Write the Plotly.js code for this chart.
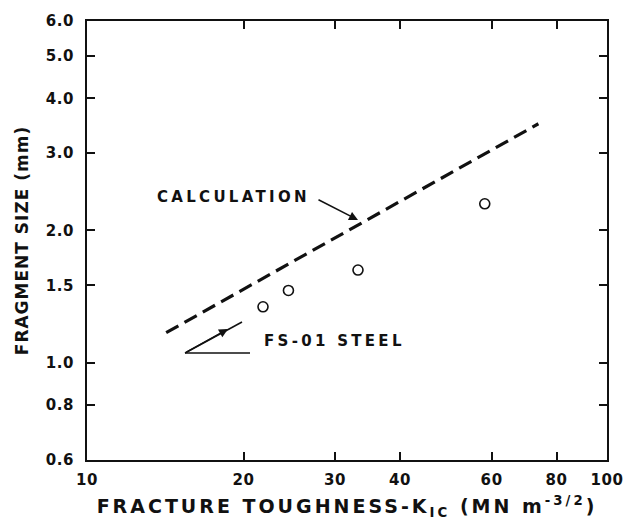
<!DOCTYPE html>
<html><head><meta charset="utf-8">
<script src="https://cdn.plot.ly/plotly-3.0.1.min.js"></script>
<style>
body{margin:0;background:#fff}
.xtitle{letter-spacing:3px}
.ytitle{letter-spacing:1px}
.annotation-text{letter-spacing:3.3px}
.xtick text,.ytick text{letter-spacing:0.6px}
</style></head>
<body><div id="chart" style="width:628px;height:520px"></div>
<script>
// Measured data (FS-01 steel)
const toughness = [21.8, 24.4, 33.2, 58.2];
const fragmentSize = [1.34, 1.46, 1.625, 2.30];
// Calculation line end points
const calcToughness = [14.2, 73.8];
const calcSize = [1.17, 3.50];
// Tick labels
const xTickVals = [10, 20, 30, 40, 60, 80, 100];
const xTickText = ['10', '20', '30', '40', '60', '80', '100'];
const yTickVals = [0.6, 0.8, 1.0, 1.5, 2.0, 3.0, 4.0, 5.0, 6.0];
const yTickText = ['0.6', '0.8', '1.0', '1.5', '2.0', '3.0', '4.0', '5.0', '6.0'];

const L = 87, R = 607, T = 21, B = 460;
const px = x => (x - L) / (R - L);
const py = y => (B - y) / (B - T);
const FONT = 'DejaVu Sans, Arial, sans-serif';

const traces = [
  {x: calcToughness, y: calcSize, mode: 'lines', type: 'scatter',
   line: {color: '#111', width: 3.2, dash: '14px,7px'}, hoverinfo: 'skip'},
  {x: toughness, y: fragmentSize, mode: 'markers', type: 'scatter',
   marker: {symbol: 'circle-open', size: 10, color: '#111', line: {width: 1.6, color: '#111'}}}
];

const axisCommon = {
  type: 'log', showgrid: false, zeroline: false, showline: true, linecolor: '#111', linewidth: 2,
  ticks: 'inside', ticklen: 8, tickwidth: 2, tickcolor: '#111', mirror: 'ticks',
  tickfont: {family: FONT, size: 15, color: '#111', weight: 'bold'}
};

const layout = {
  width: 628, height: 520,
  margin: {l: L, r: 628 - R, t: T, b: 520 - B},
  paper_bgcolor: '#fff', plot_bgcolor: '#fff', showlegend: false,
  xaxis: Object.assign({}, axisCommon, {
    range: [1, 2], tickvals: xTickVals, ticktext: xTickText, ticklabelstandoff: 5,
    title: {text: 'FRACTURE TOUGHNESS-K<sub>IC</sub> (MN m<sup>-3/2</sup>)', standoff: 14,
            font: {family: FONT, size: 19, color: '#111', weight: 'bold'}}
  }),
  yaxis: Object.assign({}, axisCommon, {
    range: [Math.log10(0.6), Math.log10(6)], tickvals: yTickVals, ticktext: yTickText,
    ticklabelstandoff: 8,
    title: {text: 'FRAGMENT SIZE (mm)', standoff: 13,
            font: {family: FONT, size: 17, color: '#111', weight: 'bold'}}
  }),
  shapes: [
    {type: 'line', xref: 'paper', yref: 'paper', x0: px(185), y0: py(353), x1: px(250), y1: py(353),
     line: {color: '#111', width: 1.6}},
    {type: 'line', xref: 'paper', yref: 'paper', x0: px(185), y0: py(353), x1: px(242), y1: py(322),
     line: {color: '#111', width: 1.6}}
  ],
  annotations: [
    {xref: 'paper', yref: 'paper', x: px(155), y: py(197), xanchor: 'left', text: 'CALCULATION', showarrow: false,
     font: {family: FONT, size: 15, color: '#111', weight: 'bold'}},
    {xref: 'paper', yref: 'paper', x: px(358), y: py(220), ax: -41, ay: -21, text: '',
     showarrow: true, arrowhead: 2, arrowsize: 1.2, arrowwidth: 1.5, arrowcolor: '#111'},
    {xref: 'paper', yref: 'paper', x: px(228), y: py(329), ax: -43, ay: 24, text: '',
     showarrow: true, arrowhead: 2, arrowsize: 1.2, arrowwidth: 1.5, arrowcolor: '#111'},
    {xref: 'paper', yref: 'paper', x: px(262), y: py(352), xanchor: 'left', text: 'FS-01 STEEL', showarrow: false,
     font: {family: FONT, size: 15, color: '#111', weight: 'bold'}}
  ]
};

Plotly.newPlot('chart', traces, layout, {displayModeBar: false, staticPlot: true});
</script></body></html>
